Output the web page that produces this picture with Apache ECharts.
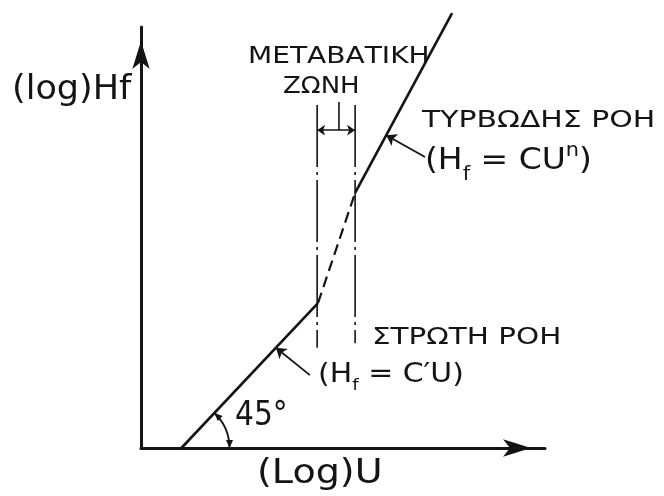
<!DOCTYPE html>
<html>
<head>
<meta charset="utf-8">
<script src="https://cdn.jsdelivr.net/npm/echarts@6/dist/echarts.min.js"></script>
<style>
  html, body { margin: 0; padding: 0; background: #ffffff; }
  #chart { width: 664px; height: 496px; }
</style>
</head>
<body>
<div id="chart"></div>
<script>
// Head loss against velocity on log–log axes: laminar branch (slope 45°),
// transition zone, turbulent branch (steeper power law).

// Axis extent in log units
const xRange = [0, 10];
const yRange = [0, 10];

// Regime branches, [log U, log Hf]
const laminarLine = [[1.0, 0], [4.38, 3.44]];
const transitionLine = [[4.38, 3.44], [5.30, 6.06]];
const turbulentLine = [[5.30, 6.06], [7.70, 10.33]];

// Transition zone limits (dash‑dot verticals), centre tick and span marker
const zoneLeft = [[4.36, 8.15], [4.36, 2.38]];
const zoneRight = [[5.30, 8.15], [5.30, 2.49]];
const zoneMid = [[4.90, 8.22], [4.90, 7.55]];
const zoneSpan = [[4.36, 7.55], [5.30, 7.55]];

// Leader arrows from the formulas to their branches
const turbulentPointer = [[7.03, 6.91], [6.07, 7.43]];
const laminarPointer = [[4.18, 1.73], [3.34, 2.38]];

// 45° angle mark at the foot of the laminar branch
const angleVertex = [1.0, 0];
const angleRadius = 1.19;

const ink = '#141414';
const font = '"DejaVu Sans", sans-serif';

function seg(data, width, type) {
  return {
    type: 'line', data: data, symbol: 'none', clip: false, silent: true,
    lineStyle: { color: ink, width: width, type: type || 'solid', cap: 'butt' },
    z: 3
  };
}

function arrowHead(p, d, len, wid) {
  const bx = p[0] - d[0] * len, by = p[1] - d[1] * len;
  const nx = -d[1] * wid / 2, ny = d[0] * wid / 2;
  return {
    type: 'polygon',
    shape: { points: [[p[0], p[1]], [bx + nx, by + ny], [bx - nx, by - ny]] },
    style: { fill: ink }
  };
}

function text(str, x, y, size, sx, rich) {
  const el = {
    type: 'text', x: x, y: y, scaleX: sx || 1, z: 10,
    style: {
      text: str, fontSize: size, fontFamily: font, fill: ink,
      align: 'left', verticalAlign: 'middle'
    }
  };
  if (rich) el.style.rich = rich;
  return el;
}

// small raised / lowered tokens for the formulas
function shifted(size, down) {
  return {
    fontSize: size, fontFamily: font, fill: ink, lineHeight: size + 2,
    padding: down > 0 ? [down, 0, 0, 0] : [0, 0, -down, 0]
  };
}

const chart = echarts.init(document.getElementById('chart'), null, { renderer: 'canvas' });

const axisLine = {
  show: true,
  symbol: ['none', 'arrow'],
  symbolSize: [13, 28],
  symbolOffset: [0, -14],
  lineStyle: { color: ink, width: 3 }
};

chart.setOption({
  animation: false,
  backgroundColor: '#ffffff',
  grid: { left: 141, right: 119, top: 27, bottom: 48 },
  xAxis: {
    type: 'value', min: xRange[0], max: xRange[1],
    axisLine: axisLine, axisTick: { show: false },
    axisLabel: { show: false }, splitLine: { show: false }
  },
  yAxis: {
    type: 'value', min: yRange[0], max: yRange[1],
    axisLine: axisLine, axisTick: { show: false },
    axisLabel: { show: false }, splitLine: { show: false }
  },
  series: [
    seg(laminarLine, 2.6),
    seg(transitionLine, 2.2, [11, 6]),
    seg(turbulentLine, 2.6),
    seg(zoneLeft, 1.6, [62, 5, 3, 5]),
    seg(zoneRight, 1.6, [62, 5, 3, 5]),
    seg(zoneMid, 1.6),
    {
      type: 'lines', coordinateSystem: 'cartesian2d', silent: true, z: 4,
      symbol: ['arrow', 'arrow'], symbolSize: 8,
      lineStyle: { color: ink, width: 1.6, opacity: 1, curveness: 0 },
      data: [{ coords: zoneSpan }]
    },
    {
      type: 'lines', coordinateSystem: 'cartesian2d', silent: true, z: 4,
      symbol: ['none', 'arrow'], symbolSize: 10,
      lineStyle: { color: ink, width: 1.8, opacity: 1, curveness: 0 },
      data: [{ coords: turbulentPointer }, { coords: laminarPointer }]
    },
    {
      type: 'custom', coordinateSystem: 'cartesian2d', silent: true, clip: false, z: 4,
      data: [angleVertex],
      renderItem: function (params, api) {
        const c = api.coord([api.value(0), api.value(1)]);
        const r = api.size([angleRadius, 0])[0];
        const a = api.coord(laminarLine[0]);
        const b = api.coord(laminarLine[1]);
        const theta = Math.atan2(a[1] - b[1], b[0] - a[0]);
        const top = [c[0] + r * Math.cos(theta), c[1] - r * Math.sin(theta)];
        const bottom = [c[0] + r, c[1]];
        return {
          type: 'group',
          children: [
            {
              type: 'arc',
              shape: { cx: c[0], cy: c[1], r: r, startAngle: -theta, endAngle: 0, clockwise: true },
              style: { stroke: ink, lineWidth: 1.8, fill: null }
            },
            arrowHead(top, [-Math.sin(theta), -Math.cos(theta)], 8, 7),
            arrowHead(bottom, [0, 1], 8, 7)
          ]
        };
      }
    }
  ],
  graphic: [
    text('(log)Hf', 12, 90, 34, 1.03),
    text('(Log)U', 257, 474, 34, 1.12),
    text('ΜΕΤΑΒΑΤΙΚΗ', 248, 57, 23, 1.22),
    text('ΖΩΝΗ', 283, 87, 23, 1.13),
    text('ΤΥΡΒΩΔΗΣ ΡΟΗ', 422, 121, 23, 1.3),
    text('(H{s|f} = CU{p|n})', 425, 161, 30, 1.1, {
      s: shifted(19, 28),
      p: shifted(19, -20)
    }),
    text('ΣΤΡΩΤΗ ΡΟΗ', 372, 338, 23, 1.28),
    text('(H{s|f} = C\u2032U)', 318, 375, 26, 1.15, {
      s: shifted(16, 22)
    }),
    text('45°', 235, 416, 33, 0.9)
  ]
});
</script>
</body>
</html>
